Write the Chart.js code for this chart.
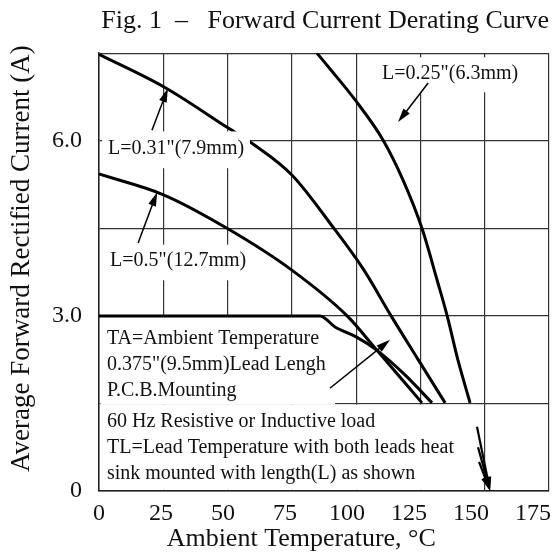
<!DOCTYPE html>
<html>
<head>
<meta charset="utf-8">
<script src="https://cdn.jsdelivr.net/npm/chart.js@4.4.0/dist/chart.umd.min.js"></script>
<style>
  html, body { margin: 0; padding: 0; background: #fff; }
  #wrap { width: 552px; height: 557px; }
</style>
</head>
<body>
<div id="wrap"><canvas id="derating"></canvas></div>
<script>
// axis ticks
var xTicks = [0, 25, 50, 75, 100, 125, 150, 175];
var yTicks = [0, 1.5, 3.0, 4.5, 6.0, 7.5];
var yLabels = ['0', '', '3.0', '', '6.0', ''];

// curves (ambient temperature in °C, current in A)
var temp025 = [84.8, 91.0, 99.6, 110.5, 118.2, 125.6, 131.5, 135.4, 139.6, 144.3];
var amp025  = [7.50, 7.17, 6.70, 6.01, 5.33, 4.50, 3.61, 3.00, 2.24, 1.51];

var temp031 = [0, 25.3, 49.8, 60.7, 75.1, 91.0, 103.1, 113.6, 123.7, 134.6];
var amp031  = [7.48, 6.92, 6.23, 5.92, 5.41, 4.52, 3.78, 3.00, 2.28, 1.51];

var temp05 = [0, 25.3, 49.8, 75.1, 96.5, 108.1, 125.6];
var amp05  = [5.43, 5.07, 4.50, 3.78, 3.00, 2.41, 1.51];

var tempPcb = [0, 86, 91.8, 100, 108.1, 119, 129.5];
var ampPcb  = [3.0, 3.0, 2.81, 2.64, 2.41, 1.99, 1.51];

var serif = '"Liberation Serif", "Times New Roman", serif';
var ink = '#111';

function points(xs, ys) {
    return xs.map(function (v, i) { return { x: v, y: ys[i] }; });
}

function curve(xs, ys) {
    return {
        data: points(xs, ys),
        borderColor: '#000',
        borderWidth: 3,
        pointRadius: 0,
        cubicInterpolationMode: 'monotone',
        fill: false
    };
}

// annotation boxes, in axis units: [x0, x1, y0, y1]
var noteMasks = [[0, 91.8, 1.5, 3.0], [0, 146.2, 0, 1.5]];

var noteLines = [
    { text: 'TA=Ambient Temperature', y: 2.611 },
    { text: '0.375"(9.5mm)Lead Lengh', y: 2.158 },
    { text: 'P.C.B.Mounting', y: 1.712 },
    { text: '60 Hz Resistive or Inductive load', y: 1.19 },
    { text: 'TL=Lead Temperature with both leads heat', y: 0.736 },
    { text: 'sink mounted with length(L) as shown', y: 0.291 }
];

var curveLabels = [
    { text: 'L=0.31"(7.9mm)', x: 3.5, y: 5.87, box: [1.2, 58.7, 5.53, 6.16] },
    { text: 'L=0.5"(12.7mm)', x: 4.3, y: 3.94, box: [1.2, 57.9, 3.61, 4.22] },
    { text: 'L=0.25"(6.3mm)', x: 110.1, y: 7.15, box: [108.5, 164.5, 6.83, 7.43] }
];

// arrows: [fromX, fromY, toX, toY, width]
var arrows = [
    [20.6, 6.18, 26.8, 6.90, 1.5],
    [15.2, 4.25, 22.6, 5.12, 1.5],
    [128.0, 6.99, 116.3, 6.32, 1.5],
    [89.8, 1.76, 113.2, 2.59, 1.5],
    [147.0, 1.10, 152.1, 0.0, 2.2],
    [147.4, 0.75, 152.1, 0.0, 2.2],
    [147.8, 0.50, 152.1, 0.0, 2.2]
];

function drawArrow(ctx, x0, y0, x1, y1, w) {
    var ang = Math.atan2(y1 - y0, x1 - x0);
    var len = 14, half = 4;
    ctx.lineWidth = w;
    ctx.beginPath();
    ctx.moveTo(x0, y0);
    ctx.lineTo(x1 - Math.cos(ang) * len * 0.6, y1 - Math.sin(ang) * len * 0.6);
    ctx.stroke();
    ctx.beginPath();
    ctx.moveTo(x1, y1);
    ctx.lineTo(x1 - Math.cos(ang) * len - Math.sin(ang) * half, y1 - Math.sin(ang) * len + Math.cos(ang) * half);
    ctx.lineTo(x1 - Math.cos(ang) * len + Math.sin(ang) * half, y1 - Math.sin(ang) * len - Math.cos(ang) * half);
    ctx.closePath();
    ctx.fill();
}

var figureNotes = {
    id: 'figureNotes',
    beforeDatasetsDraw: function (chart) {
        var ctx = chart.ctx, sx = chart.scales.x, sy = chart.scales.y;
        ctx.save();
        ctx.fillStyle = '#fff';
        noteMasks.forEach(function (m) {
            var l = sx.getPixelForValue(m[0]) + 1.5;
            var r = sx.getPixelForValue(m[1]);
            var t = sy.getPixelForValue(m[3]) + 1.2;
            var b = sy.getPixelForValue(m[2]) + (m[2] > 0 ? 1.2 : -1.2);
            ctx.fillRect(l, t, r - l, b - t);
        });
        ctx.restore();
    },
    afterDatasetsDraw: function (chart) {
        var ctx = chart.ctx, sx = chart.scales.x, sy = chart.scales.y;
        ctx.save();
        ctx.font = '20px ' + serif;
        ctx.textAlign = 'left';
        ctx.textBaseline = 'middle';

        // label backgrounds and text
        curveLabels.forEach(function (c) {
            var l = sx.getPixelForValue(c.box[0]), r = sx.getPixelForValue(c.box[1]);
            var t = sy.getPixelForValue(c.box[3]), b = sy.getPixelForValue(c.box[2]);
            ctx.fillStyle = '#fff';
            ctx.fillRect(l, t, r - l, b - t);
            ctx.fillStyle = ink;
            ctx.fillText(c.text, sx.getPixelForValue(c.x), sy.getPixelForValue(c.y));
        });

        ctx.fillStyle = ink;
        noteLines.forEach(function (n) {
            ctx.fillText(n.text, sx.getPixelForValue(3.1), sy.getPixelForValue(n.y));
        });

        ctx.strokeStyle = '#000';
        ctx.fillStyle = '#000';
        arrows.forEach(function (a) {
            drawArrow(ctx, sx.getPixelForValue(a[0]), sy.getPixelForValue(a[1]),
                sx.getPixelForValue(a[2]), sy.getPixelForValue(a[3]), a[4]);
        });
        ctx.restore();
    }
};

var config = {
    type: 'line',
    data: {
        datasets: [
            curve(temp025, amp025),
            curve(temp031, amp031),
            curve(temp05, amp05),
            curve(tempPcb, ampPcb)
        ]
    },
    options: {
        responsive: true,
        maintainAspectRatio: false,
        animation: false,
        layout: { padding: { left: 0, right: 3, top: 0, bottom: 0 } },
        plugins: {
            legend: { display: false },
            tooltip: { enabled: false },
            title: {
                display: true,
                text: 'Fig. 1  \u2013   Forward Current Derating Curve',
                align: 'end',
                color: ink,
                font: { family: serif, size: 26, weight: 'normal' },
                padding: { top: 6, bottom: 16 }
            }
        },
        scales: {
            x: {
                type: 'linear',
                min: 0,
                max: 175,
                weight: 0,
                afterBuildTicks: function (s) { s.ticks = xTicks.map(function (v) { return { value: v }; }); },
                afterFit: function (s) { s.height = 0; },
                ticks: { display: false },
                grid: { color: '#333', lineWidth: 1.2, drawTicks: false },
                border: { color: '#222', width: 1.5 }
            },
            xLabels: {
                type: 'linear',
                position: 'bottom',
                min: 0,
                max: 181.5,
                weight: 1,
                afterBuildTicks: function (s) { s.ticks = xTicks.map(function (v) { return { value: v }; }); },
                afterFit: function (s) {
                    s.height = 66;
                    s.paddingLeft = 0;
                    s.paddingRight = 0;
                },
                grid: { display: false, drawTicks: false },
                border: { display: false },
                ticks: { color: ink, padding: 8, font: { family: serif, size: 24 } },
                title: {
                    display: true,
                    text: 'Ambient Temperature, \u00b0C       ',
                    color: ink,
                    font: { family: serif, size: 26 },
                    padding: { top: 0, bottom: 2 }
                }
            },
            y: {
                type: 'linear',
                min: 0,
                max: 7.5,
                afterBuildTicks: function (s) { s.ticks = yTicks.map(function (v) { return { value: v }; }); },
                afterFit: function (s) { s.width = 99; },
                ticks: {
                    color: ink,
                    padding: 17,
                    font: { family: serif, size: 24 },
                    callback: function (v, i) { return yLabels[i]; }
                },
                grid: { color: '#333', lineWidth: 1.2, drawTicks: false },
                border: { color: '#222', width: 1.5 },
                title: {
                    display: true,
                    text: '    Average Forward Rectified Current (A)',
                    color: ink,
                    font: { family: serif, size: 27 },
                    padding: { top: 6, bottom: 0 }
                }
            }
        }
    },
    plugins: [figureNotes]
};

new Chart(document.getElementById('derating'), config);
</script>
</body>
</html>
